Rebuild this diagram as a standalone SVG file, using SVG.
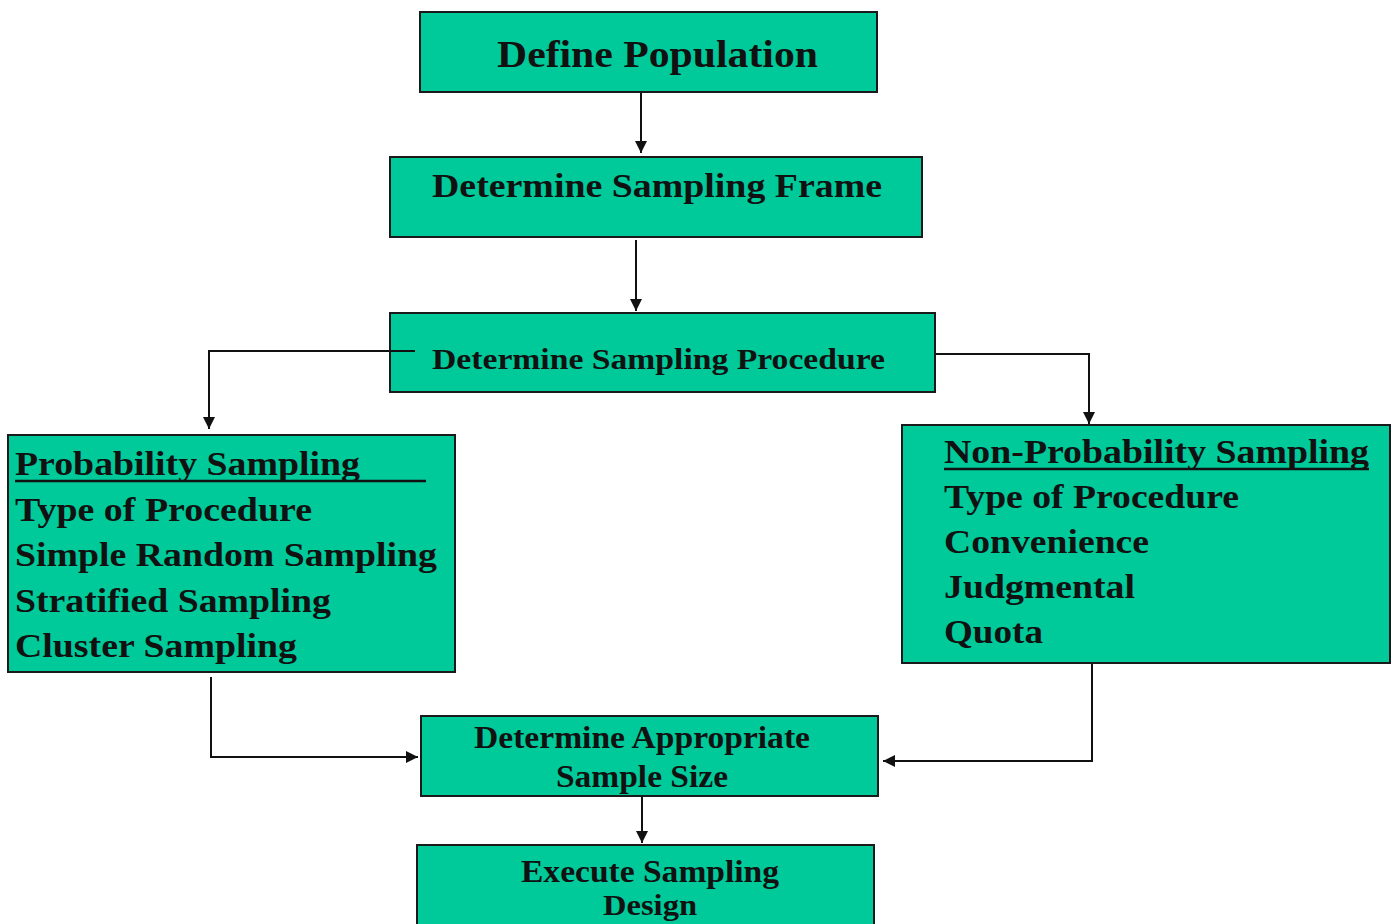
<svg xmlns="http://www.w3.org/2000/svg" width="1398" height="924" viewBox="0 0 1398 924">
<style>
.box{fill:#00C99A;stroke:#1a1a1a;stroke-width:2}
text{font-family:"Liberation Serif","Times New Roman",serif;font-weight:bold;fill:#111}
.c{stroke:#111;stroke-width:2;fill:none}
</style>
<defs>
<marker id="ah" viewBox="0 0 10 10" refX="10" refY="5" markerWidth="6" markerHeight="6" markerUnits="strokeWidth" orient="auto">
<path d="M0,0 L10,5 L0,10 z" fill="#111"/>
</marker>
</defs>
<rect width="1398" height="924" fill="#fff"/>
<g id="connectors">
<path class="c" d="M641,92 V153" marker-end="url(#ah)"/>
<path class="c" d="M636,240 V311" marker-end="url(#ah)"/>
<path class="c" d="M415,351 H209 V429" marker-end="url(#ah)"/>
<path class="c" d="M935,354 H1089 V424" marker-end="url(#ah)"/>
<path class="c" d="M211,677 V757 H418" marker-end="url(#ah)"/>
<path class="c" d="M1092,663 V761 H883" marker-end="url(#ah)"/>
<path class="c" d="M642,796 V843" marker-end="url(#ah)"/>
</g>
<g id="define-population">
<rect class="box" x="420" y="12" width="457" height="80"/>
<text x="497" y="67" font-size="38" textLength="321" lengthAdjust="spacingAndGlyphs">Define Population</text>
</g>
<g id="sampling-frame">
<rect class="box" x="390" y="157" width="532" height="80"/>
<text x="432" y="197" font-size="33" textLength="450" lengthAdjust="spacingAndGlyphs">Determine Sampling Frame</text>
</g>
<g id="sampling-procedure">
<rect class="box" x="390" y="313" width="545" height="79"/>
<line x1="390" y1="351" x2="415" y2="351" class="c"/>
<text x="432" y="369" font-size="30" textLength="453" lengthAdjust="spacingAndGlyphs">Determine Sampling Procedure</text>
</g>
<g id="probability">
<rect class="box" x="8" y="435" width="447" height="237"/>
<text x="15" y="475" font-size="34" textLength="345" lengthAdjust="spacingAndGlyphs">Probability Sampling</text>
<line x1="15" y1="481" x2="426" y2="481" stroke="#111" stroke-width="2.5"/>
<text x="15" y="521" font-size="34" textLength="297" lengthAdjust="spacingAndGlyphs">Type of Procedure</text>
<text x="15" y="566" font-size="34" textLength="422" lengthAdjust="spacingAndGlyphs">Simple Random Sampling</text>
<text x="15" y="612" font-size="34" textLength="316" lengthAdjust="spacingAndGlyphs">Stratified Sampling</text>
<text x="15" y="657" font-size="34" textLength="282" lengthAdjust="spacingAndGlyphs">Cluster Sampling</text>
</g>
<g id="non-probability">
<rect class="box" x="902" y="425" width="488" height="238"/>
<text x="944" y="463" font-size="34" textLength="425" lengthAdjust="spacingAndGlyphs">Non-Probability Sampling</text>
<line x1="944" y1="469" x2="1369" y2="469" stroke="#111" stroke-width="2.5"/>
<text x="944" y="508" font-size="34" textLength="295" lengthAdjust="spacingAndGlyphs">Type of Procedure</text>
<text x="944" y="553" font-size="34" textLength="205" lengthAdjust="spacingAndGlyphs">Convenience</text>
<text x="944" y="598" font-size="34" textLength="191" lengthAdjust="spacingAndGlyphs">Judgmental</text>
<text x="944" y="643" font-size="34" textLength="99" lengthAdjust="spacingAndGlyphs">Quota</text>
</g>
<g id="sample-size">
<rect class="box" x="421" y="716" width="457" height="80"/>
<text x="642" y="748" font-size="31" text-anchor="middle" textLength="336" lengthAdjust="spacingAndGlyphs">Determine Appropriate</text>
<text x="642" y="787" font-size="31" text-anchor="middle" textLength="172" lengthAdjust="spacingAndGlyphs">Sample Size</text>
</g>
<g id="execute">
<rect class="box" x="417" y="845" width="457" height="90"/>
<text x="650" y="882" font-size="31" text-anchor="middle" textLength="258" lengthAdjust="spacingAndGlyphs">Execute Sampling</text>
<text x="650" y="915" font-size="30" text-anchor="middle" textLength="94" lengthAdjust="spacingAndGlyphs">Design</text>
</g>
</svg>
